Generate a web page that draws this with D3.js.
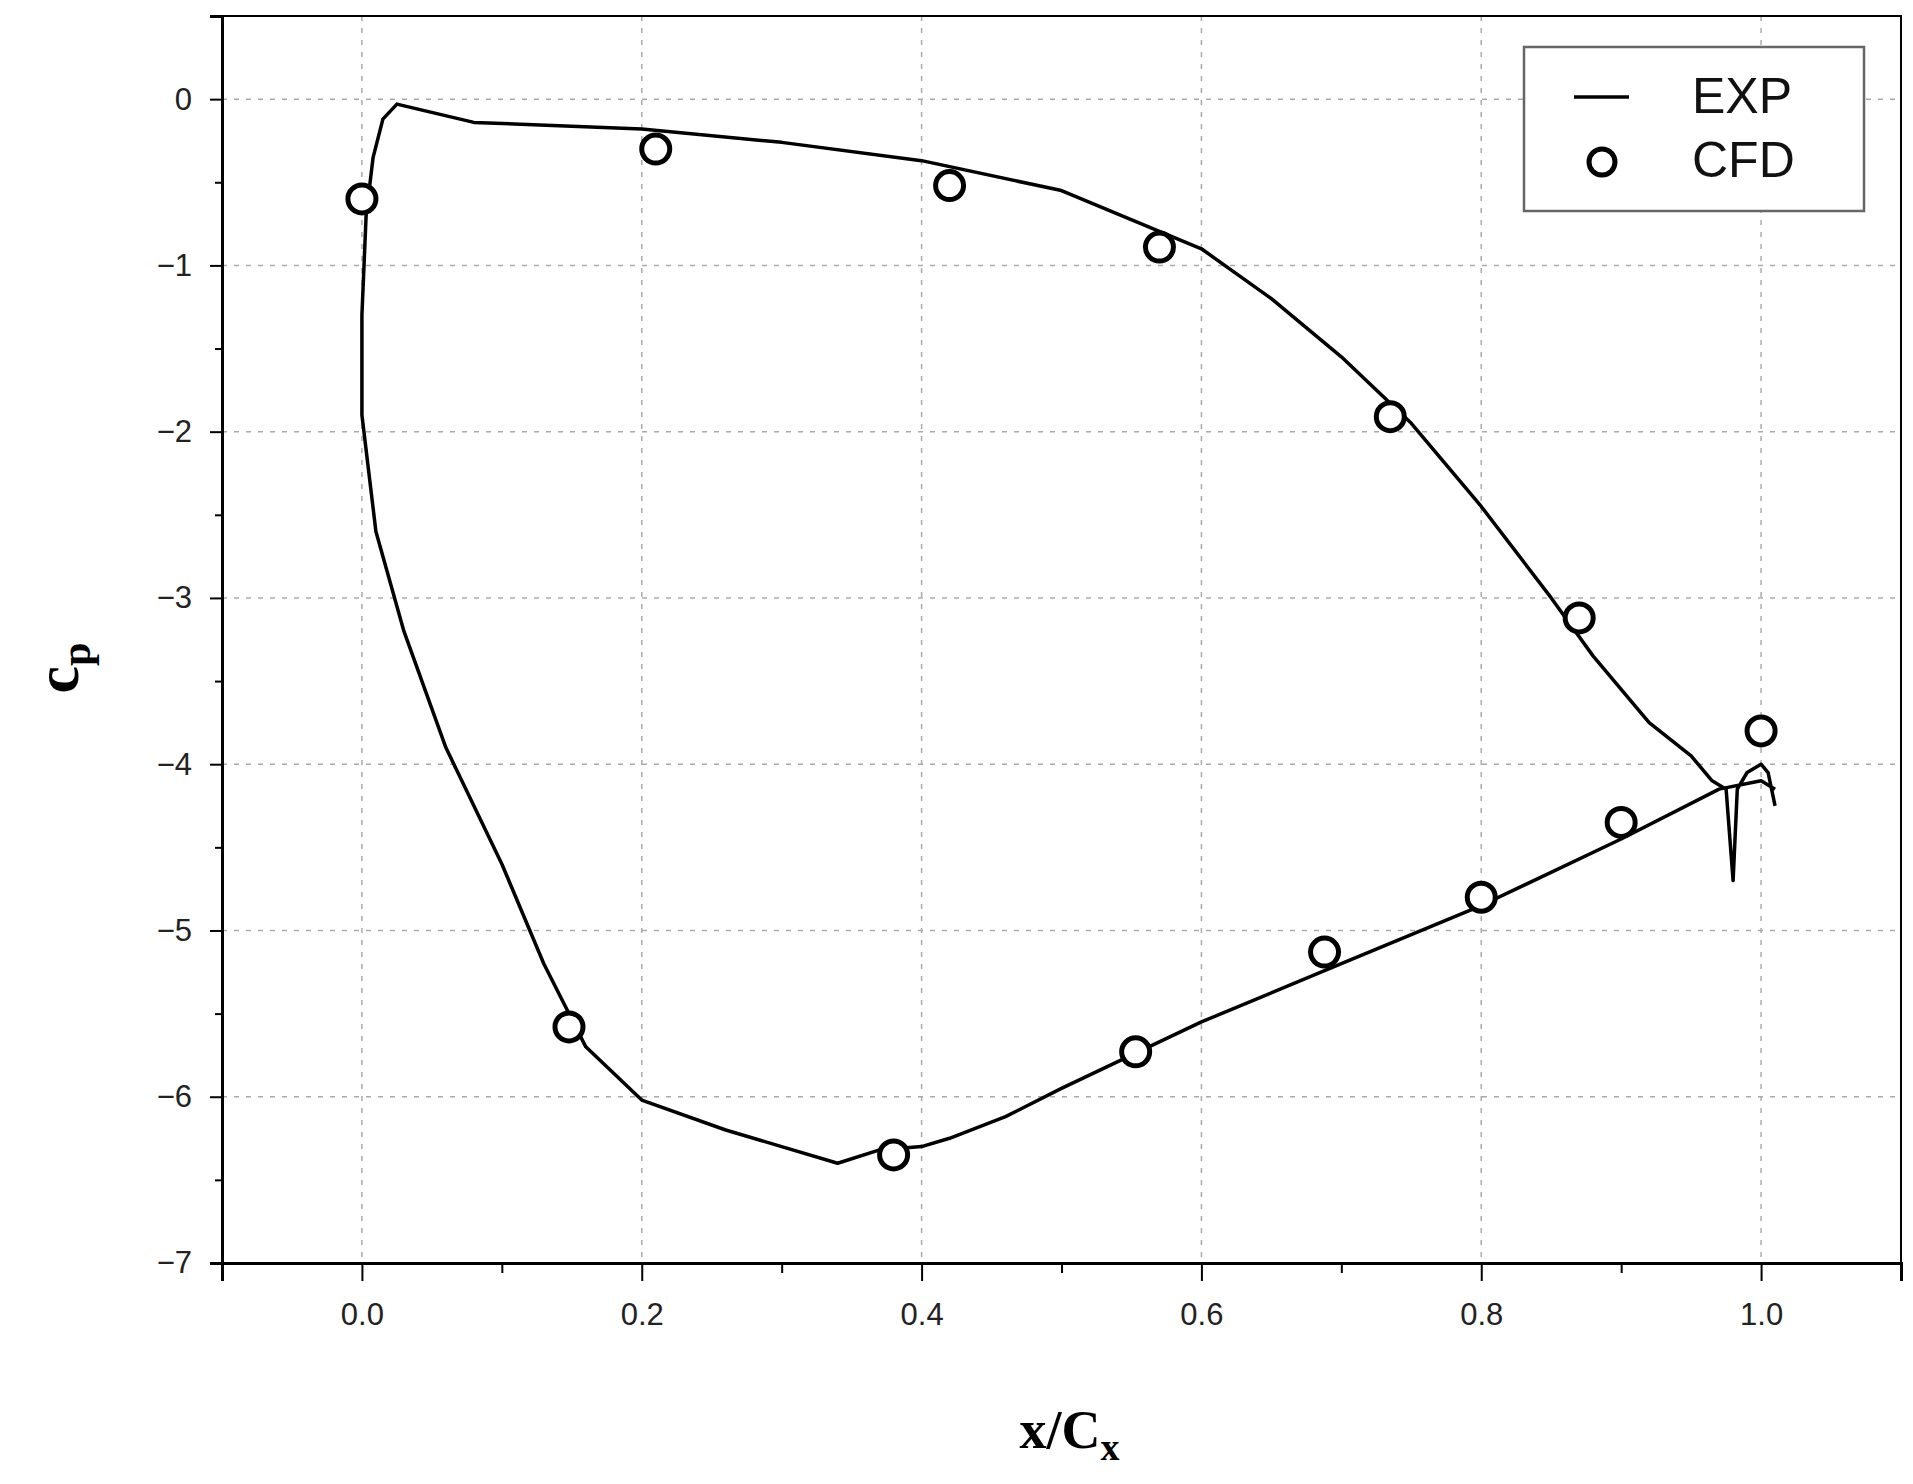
<!DOCTYPE html>
<html><head><meta charset="utf-8">
<script src="https://cdn.jsdelivr.net/npm/d3@7"></script>
<style>body{margin:0;background:#fff}</style>
</head><body>
<svg id="chart" width="1913" height="1484"></svg>
<script>
// EXP curve: trailing edge -> lower surface -> leading edge -> upper surface -> trailing edge
let exp_x  = [1.01,1.0,0.97,0.9,0.8,0.7,0.6,0.55,0.5,0.46,0.42,0.4,0.37,0.34,0.3,0.26,0.2,0.16,0.13,0.1,0.06,0.03,0.01,0.0,
              0.0,0.003,0.008,0.015,0.025,0.04,0.08,0.2,0.3,0.4,0.5,0.6,0.65,0.7,0.75,0.8,0.85,0.88,0.92,0.95,0.965,0.975,0.98,0.983,0.99,1.0,1.005,1.01];
let exp_cp = [-4.15,-4.1,-4.15,-4.45,-4.85,-5.2,-5.55,-5.75,-5.95,-6.12,-6.25,-6.3,-6.32,-6.4,-6.3,-6.2,-6.02,-5.7,-5.2,-4.6,-3.9,-3.2,-2.6,-1.9,
              -1.3,-0.7,-0.35,-0.12,-0.03,-0.06,-0.14,-0.18,-0.26,-0.37,-0.55,-0.9,-1.2,-1.55,-1.95,-2.45,-3.0,-3.35,-3.75,-3.95,-4.1,-4.15,-4.7,-4.15,-4.05,-4.0,-4.05,-4.25];
let cfd_x  = [0.0,0.21,0.42,0.57,0.735,0.87,1.0,0.9,0.8,0.688,0.553,0.38,0.148];
let cfd_cp = [-0.6,-0.3,-0.52,-0.89,-1.91,-3.12,-3.8,-4.35,-4.8,-5.13,-5.73,-6.35,-5.58];
let x_ticks = [0,0.2,0.4,0.6,0.8,1.0];
let y_ticks = [0,-1,-2,-3,-4,-5,-6,-7];
let legend_labels = ["EXP","CFD"];

let chart = d3.select("#chart");
let m_left = 222, m_right = 1901, m_top = 16, m_bottom = 1263;

let x = d3.scaleLinear().domain([-0.1,1.1]).range([m_left,m_right]);
let y = d3.scaleLinear().domain([-7,0.5]).range([m_bottom,m_top]);

// grid
chart.append("g").selectAll("line").data(x_ticks).enter().append("line")
  .attr("x1",d=>x(d)).attr("x2",d=>x(d)).attr("y1",m_top).attr("y2",m_bottom)
  .attr("stroke","#aaa").attr("stroke-width",1.5).attr("stroke-dasharray","5,7");
chart.append("g").selectAll("line").data(y_ticks.slice(0,-1)).enter().append("line")
  .attr("y1",d=>y(d)).attr("y2",d=>y(d)).attr("x1",m_left).attr("x2",m_right)
  .attr("stroke","#aaa").attr("stroke-width",1.5).attr("stroke-dasharray","5,7");

// frame
chart.append("rect").attr("x",m_left).attr("y",m_top).attr("width",m_right-m_left).attr("height",m_bottom-m_top)
  .attr("fill","none").attr("stroke","#000").attr("stroke-width",2);

// axes
let xAxis = d3.axisBottom(x).tickValues(x_ticks).tickFormat(d3.format(".1f")).tickSize(18).tickPadding(22);
let xMinor = d3.axisBottom(x).tickValues(d3.range(-0.1,1.11,0.2)).tickFormat("").tickSize(10);
let yAxis = d3.axisLeft(y).tickValues(y_ticks).tickFormat(d3.format("d")).tickSize(12).tickPadding(18);
let yMinor = d3.axisLeft(y).tickValues(d3.range(-6.5,0.6,1)).tickFormat("").tickSize(7);

function style(g){
  g.select(".domain").attr("stroke-width",3);
  g.selectAll("line").attr("stroke-width",2);
  g.selectAll("text").attr("font-family","Liberation Sans, Arial").attr("font-size",31).attr("fill","#222");
}
chart.append("g").attr("transform",`translate(0,${m_bottom})`).call(xAxis).call(style);
chart.append("g").attr("transform",`translate(0,${m_bottom})`).call(xMinor).call(style);
chart.append("g").attr("transform",`translate(${m_left},0)`).call(yAxis).call(style);
chart.append("g").attr("transform",`translate(${m_left},0)`).call(yMinor).call(style);

// EXP line
let line = d3.line().x((d,i)=>x(exp_x[i])).y((d,i)=>y(exp_cp[i]));
chart.append("path").attr("d",line(exp_x)).attr("fill","none").attr("stroke","#000").attr("stroke-width",3.5)
  .attr("stroke-linejoin","round");

// CFD points
chart.append("g").selectAll("circle").data(cfd_x).enter().append("circle")
  .attr("cx",(d,i)=>x(cfd_x[i])).attr("cy",(d,i)=>y(cfd_cp[i])).attr("r",14)
  .attr("fill","#fff").attr("stroke","#000").attr("stroke-width",5);

// legend
let lg = chart.append("g").attr("transform","translate(1524,47)");
lg.append("rect").attr("width",340).attr("height",164).attr("fill","#fff").attr("stroke","#666").attr("stroke-width",2.5);
lg.append("line").attr("x1",50).attr("x2",105).attr("y1",50).attr("y2",50).attr("stroke","#000").attr("stroke-width",3.5);
lg.append("circle").attr("cx",78).attr("cy",115).attr("r",13).attr("fill","#fff").attr("stroke","#000").attr("stroke-width",5);
lg.selectAll("text").data(legend_labels).enter().append("text")
  .attr("x",168).attr("y",(d,i)=>66+i*64).text(d=>d)
  .attr("font-family","Liberation Sans, Arial").attr("font-size",50).attr("fill","#111");

// axis titles
chart.append("text").attr("x",(m_left+m_right)/2+8).attr("y",1448).attr("text-anchor","middle")
  .attr("font-family","Liberation Serif, Times New Roman").attr("font-weight","bold").attr("font-size",54)
  .html('x/C<tspan font-size="38" dy="12">x</tspan>');
chart.append("text").attr("transform","translate(78,668) rotate(-90)").attr("text-anchor","middle")
  .attr("font-family","Liberation Serif, Times New Roman").attr("font-weight","bold").attr("font-size",62)
  .html('c<tspan font-size="42" dy="12">p</tspan>');
</script>
</body></html>
